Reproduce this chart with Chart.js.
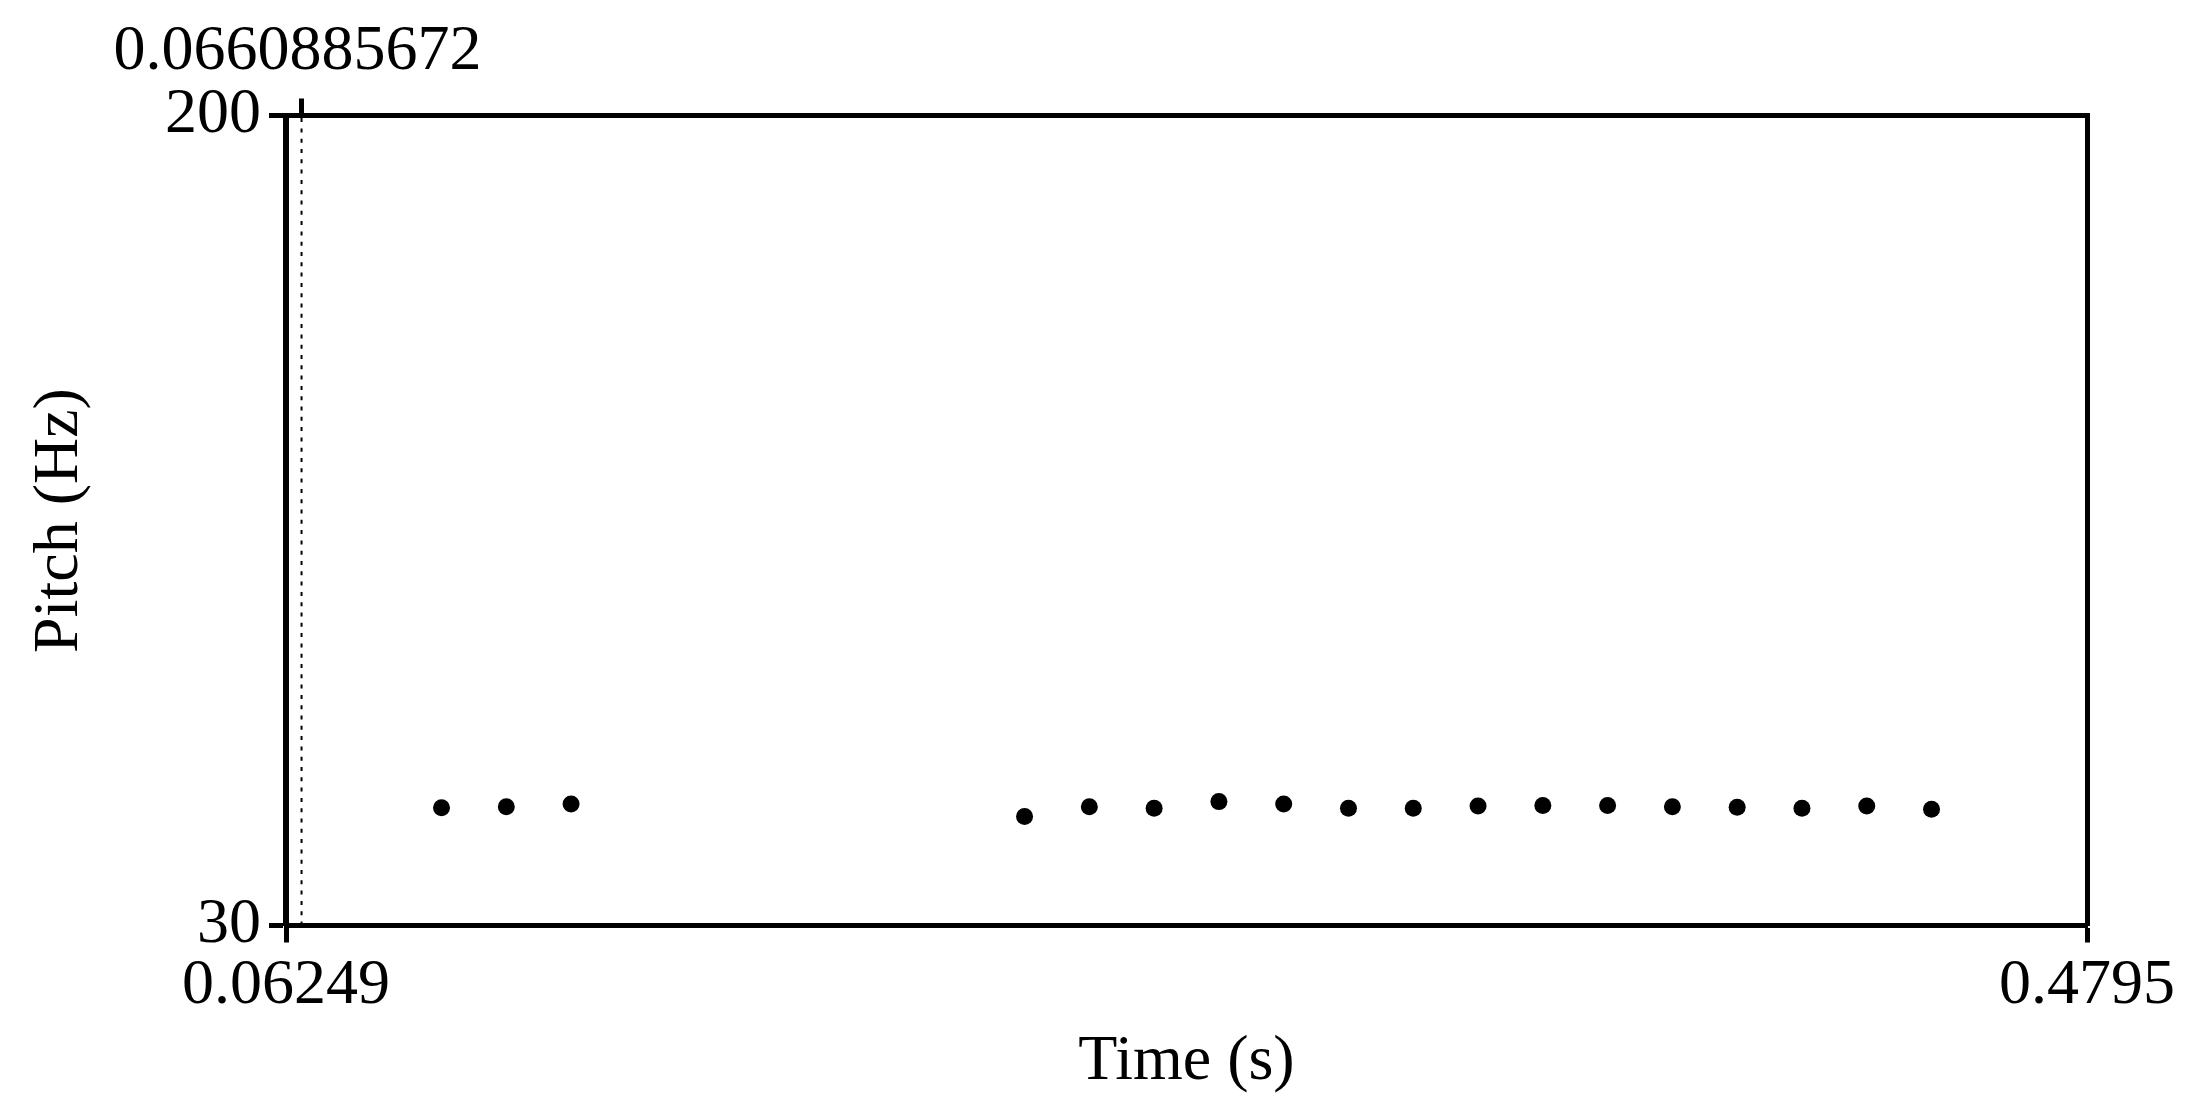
<!DOCTYPE html>
<html>
<head>
<meta charset="utf-8">
<script src="https://cdn.jsdelivr.net/npm/chart.js@4/dist/chart.umd.min.js"></script>
<style>
  html, body { margin: 0; padding: 0; background: #ffffff; }
  canvas { display: block; }
</style>
</head>
<body>
<canvas id="c" width="2187" height="1118"></canvas>
<script>
// ---- data ----
const frameTimes = [0.0985, 0.1135, 0.1285, 0.2335, 0.2485, 0.2635, 0.2785, 0.2935, 0.3085,
                    0.3235, 0.3385, 0.3535, 0.3685, 0.3835, 0.3985, 0.4135, 0.4285, 0.4435];
const pitchHz    = [54.7, 54.9, 55.5, 52.9, 54.9, 54.6, 56.0, 55.5, 54.6,
                    54.6, 55.1, 55.2, 55.2, 54.9, 54.8, 54.6, 55.1, 54.4];
const xRange = [0.06249, 0.4795];
const xTickLabels = ['0.06249', '0.4795'];
const yRange = [30, 200];
const yTickLabels = ['30', '200'];
const cursorTime = 0.0660885672;
const cursorLabel = '0.0660885672';
const xTitle = 'Time (s)';
const yTitle = 'Pitch (Hz)';

const points = frameTimes.map((t, i) => ({ x: t, y: pitchHz[i] }));
const cursorLine = [{ x: cursorTime, y: yRange[0] }, { x: cursorTime, y: yRange[1] }];

const FONT = { family: '"Liberation Serif", "Times New Roman", serif', size: 64, lineHeight: 1 };
const BLACK = '#000000';

new Chart(document.getElementById('c'), {
  type: 'scatter',
  data: {
    datasets: [
      {
        type: 'line',
        data: cursorLine,
        borderColor: BLACK,
        borderWidth: 2,
        borderDash: [4, 6.3],
        pointRadius: 0,
        fill: false,
        xAxisID: 'x',
        yAxisID: 'y'
      },
      {
        data: points,
        backgroundColor: BLACK,
        borderWidth: 0,
        pointRadius: 8.5,
        pointHoverRadius: 8.5,
        xAxisID: 'x',
        yAxisID: 'y'
      }
    ]
  },
  options: {
    responsive: false,
    devicePixelRatio: 1,
    animation: false,
    events: [],
    layout: { padding: 0 },
    plugins: { legend: { display: false }, tooltip: { enabled: false } },
    scales: {
      x: {
        type: 'linear',
        position: 'bottom',
        min: xRange[0],
        max: xRange[1],
        afterBuildTicks: s => { s.ticks = xRange.map(v => ({ value: v })); },
        afterFit: s => { s.height = 192.5; },
        ticks: {
          color: BLACK, font: FONT, padding: 12, maxRotation: 0, minRotation: 0, autoSkip: false,
          callback: (v, i) => xTickLabels[i]
        },
        grid: { display: true, drawOnChartArea: false, drawTicks: true, tickLength: 17, tickWidth: 5, tickColor: BLACK },
        border: { display: true, color: BLACK, width: 5 },
        title: { display: true, text: xTitle, color: BLACK, font: FONT, padding: { top: 0, bottom: 23.5 } }
      },
      x2: {
        type: 'linear',
        position: 'top',
        min: xRange[0],
        max: xRange[1],
        afterBuildTicks: s => { s.ticks = [{ value: cursorTime }]; },
        afterFit: s => { s.height = 115.5; },
        ticks: {
          color: BLACK, font: FONT, padding: 14, labelOffset: -4, maxRotation: 0, minRotation: 0, autoSkip: false,
          callback: () => cursorLabel
        },
        grid: { display: true, drawOnChartArea: false, drawTicks: true, tickLength: 17, tickWidth: 5, tickColor: BLACK },
        border: { display: true, color: BLACK, width: 5 }
      },
      y: {
        type: 'linear',
        position: 'left',
        min: yRange[0],
        max: yRange[1],
        afterBuildTicks: s => { s.ticks = yRange.map(v => ({ value: v })); },
        afterFit: s => { s.width = 286; },
        ticks: {
          color: BLACK, font: FONT, padding: 8, autoSkip: false,
          callback: (v, i) => yTickLabels[i]
        },
        grid: { display: true, drawOnChartArea: false, drawTicks: true, tickLength: 17, tickWidth: 5, tickColor: BLACK },
        border: { display: true, color: BLACK, width: 6 },
        title: { display: true, text: yTitle, color: BLACK, font: FONT, padding: { top: 28.5, bottom: 0 } }
      },
      y2: {
        type: 'linear',
        position: 'right',
        min: yRange[0],
        max: yRange[1],
        afterFit: s => { s.width = 99; },
        ticks: { display: false },
        grid: { display: false },
        border: { display: true, color: BLACK, width: 5 }
      }
    }
  }
});
</script>
</body>
</html>
